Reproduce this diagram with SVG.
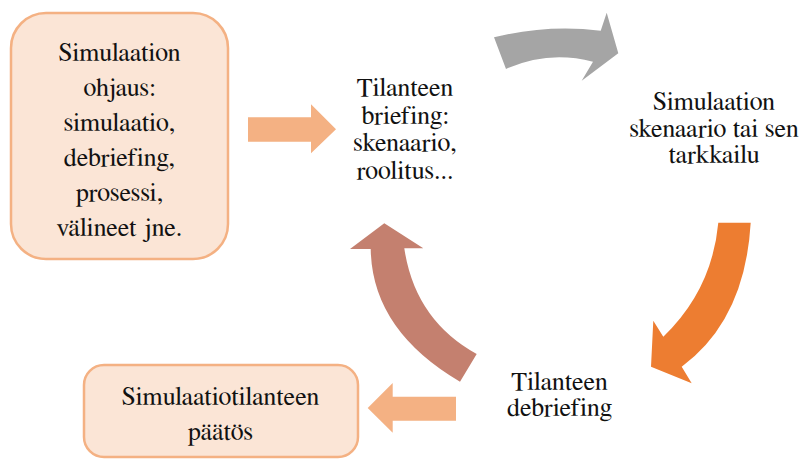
<svg xmlns="http://www.w3.org/2000/svg" width="805" height="459" viewBox="0 0 805 459">
  <style>
    .box { fill: #FBE5D6; stroke: #F4B183; stroke-width: 2.5; }
    .lbl { font-family: FreeSerif, 'Liberation Serif', 'DejaVu Serif', serif; font-size: 26px; fill: #111111; text-anchor: middle; font-variant-ligatures: none; }
    .peach { fill: #F4B183; }
    .grey { fill: #A5A5A5; }
    .orange { fill: #ED7D31; }
    .brown { fill: #C4806F; }
  </style>
  <rect width="805" height="459" fill="#ffffff"/>

  <g id="connectors">
    <!-- straight block arrows -->
    <path class="peach" d="M248,117.3 L311,117.3 L311,104.3 L336,129.3 L311,153.3 L311,141.7 L248,141.7 Z"/>
    <path class="peach" d="M456,396.7 L392.7,396.7 L392.7,383 L367.7,408 L392.7,432.7 L392.7,420.7 L456,420.7 Z"/>
    <!-- curved cycle arrows -->
    <path class="grey" d="M494,37.3 Q548,24 600.7,30.7 L606.7,12.7 L618.3,53.3 L581.7,80.7 L593,61.7 Q548,50 506,69 Z"/>
    <path class="orange" d="M718.3,222.7 L750.7,222.7 Q745,320 681.7,366.7 L691.7,383.3 L651,366.7 L653.3,320.7 L663.3,336.7 Q712,290 718.3,222.7 Z"/>
    <path class="brown" d="M384.3,223.3 L423.3,248.3 L404.3,248.3 Q415,320 476.7,354 L460,381.7 Q372,330 370.7,249 L350,249 Z"/>
  </g>

  <g id="ohjaus">
    <rect class="box" x="11" y="13" width="217" height="246" rx="35" ry="35"/>
    <text class="lbl" x="119.5" y="61">Simulaation</text>
    <text class="lbl" x="119.5" y="96">ohjaus:</text>
    <text class="lbl" x="119.5" y="131">simulaatio,</text>
    <text class="lbl" x="119.5" y="166">debriefing,</text>
    <text class="lbl" x="119.5" y="201">prosessi,</text>
    <text class="lbl" x="119.5" y="236">välineet jne.</text>
  </g>

  <g id="briefing">
    <text class="lbl" x="405" y="96">Tilanteen</text>
    <text class="lbl" x="405" y="123.5">briefing:</text>
    <text class="lbl" x="405" y="151">skenaario,</text>
    <text class="lbl" x="405" y="178.5">roolitus...</text>
  </g>

  <g id="skenaario">
    <text class="lbl" x="714" y="110">Simulaation</text>
    <text class="lbl" x="714" y="136.5">skenaario tai sen</text>
    <text class="lbl" x="714" y="163">tarkkailu</text>
  </g>

  <g id="debriefing">
    <text class="lbl" x="559.5" y="389.5">Tilanteen</text>
    <text class="lbl" x="559.5" y="416">debriefing</text>
  </g>

  <g id="paatos">
    <rect class="box" x="84" y="365" width="274" height="92" rx="20" ry="20"/>
    <text class="lbl" x="220.5" y="405">Simulaatiotilanteen</text>
    <text class="lbl" x="220.5" y="440">päätös</text>
  </g>
</svg>
